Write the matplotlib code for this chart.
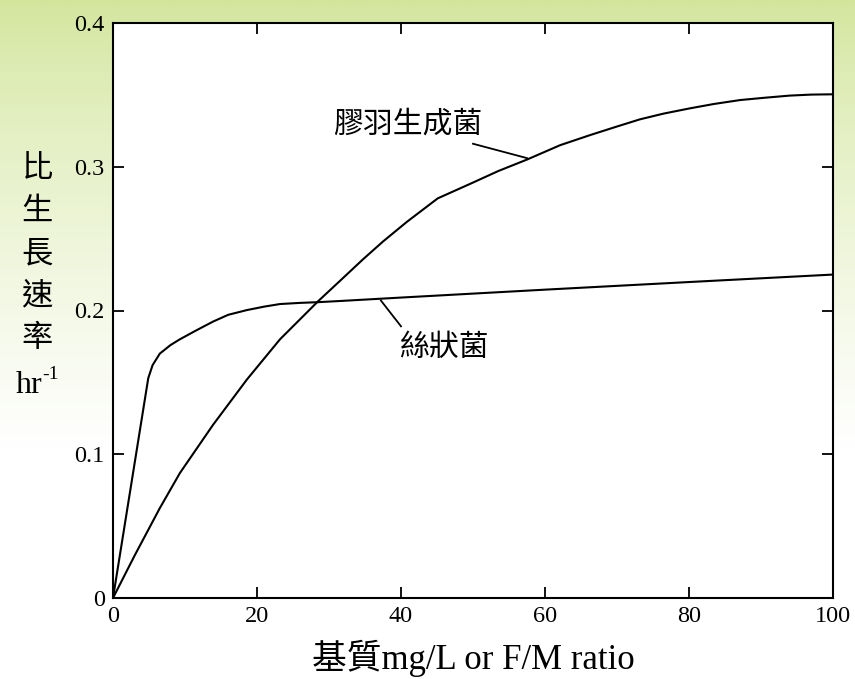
import numpy as np
import matplotlib
matplotlib.use('Agg')
import matplotlib.pyplot as plt

# filamentous bacteria (絲狀菌)
fil_x = [0, 4.9, 5.5, 6.5, 8, 9.3, 11.5, 13.9, 16, 18.6, 21, 23.2, 26, 28.5, 31.5,
         40, 60, 80, 100]
fil_y = [0, 0.153, 0.162, 0.170, 0.176, 0.180, 0.186, 0.1923, 0.197, 0.2003, 0.2027,
         0.2045, 0.2053, 0.2058, 0.2066, 0.209, 0.2145, 0.2198, 0.225]

# floc-forming bacteria (膠羽生成菌)
floc_x = [0, 3, 6.5, 9.3, 13.9, 18.6, 23.2, 28.5, 31.5, 34.7, 37.5, 40.8, 43, 45.1,
          50, 53.5, 57.5, 62.1, 66.25, 70, 73.2, 76.5, 80.1, 83.5, 87.1, 90.5, 94,
          97, 100]
floc_y = [0, 0.0295, 0.0625, 0.087, 0.1205, 0.152, 0.180, 0.2065, 0.2205, 0.2355,
          0.248, 0.2616, 0.270, 0.278, 0.289, 0.297, 0.305, 0.315, 0.322, 0.328,
          0.333, 0.337, 0.3406, 0.3437, 0.3464, 0.348, 0.3495, 0.3502, 0.3504]

x_ticks = [0, 20, 40, 60, 80, 100]
y_ticks = [0, 0.1, 0.2, 0.3, 0.4]
y_tick_labels = ['0', '0.1', '0.2', '0.3', '0.4']
ylabel_chars = ['比', '生', '長', '速', '率']

serif = ['Liberation Serif', 'Noto Sans CJK TC']
cjk = ['Noto Sans CJK TC', 'DejaVu Sans']

W, H = 855, 679
fig = plt.figure(figsize=(W / 100, H / 100), dpi=100)

# slide background: pale green fading to white
bg = fig.add_axes([0, 0, 1, 1], zorder=-10)
t = np.linspace(0, 1, 300)[:, None]
top = np.array([210, 229, 155]) / 255.0
fade = np.clip(t / 0.66, 0, 1) ** 0.75
grad = top[None, None, :] * (1 - fade[:, :, None]) + fade[:, :, None]
grad = np.repeat(grad, 2, axis=1)
bg.imshow(grad, aspect='auto', extent=[0, 1, 0, 1])
bg.axis('off')

ax = fig.add_axes([113 / W, 1 - 598 / H, 720 / W, 575 / H])
ax.set_facecolor('white')
ax.plot(fil_x, fil_y, color='black', lw=1.5)
ax.plot(floc_x, floc_y, color='black', lw=1.5)

ax.set_xlim(0, 100)
ax.set_ylim(0, 0.4)
ax.set_xticks(x_ticks)
ax.set_yticks(y_ticks)
ax.set_yticklabels(y_tick_labels)
ax.tick_params(direction='in', length=8, width=1.3, top=True, right=True,
               labelsize=17.5, pad=6)
for lab in ax.get_xticklabels() + ax.get_yticklabels():
    lab.set_family(serif)
for s in ax.spines.values():
    s.set_linewidth(1.5)

# curve labels with leader lines
ax.text(41.0, 0.330, '膠羽生成菌', family=cjk, fontsize=21.5, weight='light',
        ha='center', va='center')
ax.plot([50.0, 57.5], [0.316, 0.306], color='black', lw=1.3)
ax.text(46.0, 0.1746, '絲狀菌', family=cjk, fontsize=21.5, weight='light',
        ha='center', va='center')
ax.plot([37.2, 40.0], [0.207, 0.189], color='black', lw=1.3)

ax.set_xlabel('基質mg/L or F/M ratio', family=serif, fontsize=25, labelpad=9)

# vertical y label, one character per line
for i, ch in enumerate(ylabel_chars):
    fig.text(37 / W, 1 - (168 + 42.5 * i) / H, ch, family=cjk, fontsize=22.5,
             weight='light', ha='center', va='center')
fig.text(42 / W, 1 - 393 / H, 'hr', family=serif, fontsize=23,
         ha='right', va='baseline')
fig.text(42 / W, 1 - 379 / H, '-1', family=serif, fontsize=14,
         ha='left', va='baseline')

fig.savefig('out.png', dpi=100)
